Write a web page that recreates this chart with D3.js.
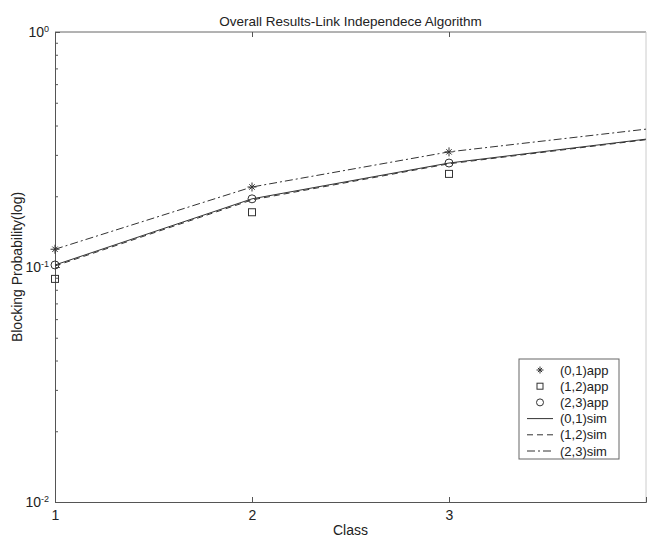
<!DOCTYPE html>
<html>
<head>
<meta charset="utf-8">
<script src="https://cdn.jsdelivr.net/npm/d3@7"></script>
<style>
    body { margin: 0; background: #fff; }
    text { font-family: "Liberation Sans", Arial, sans-serif; fill: #222; }
</style>
</head>
<body>
<div id="chart"></div>
<script>
// class index on the x axis
const classes = [1, 2, 3, 4];
const appClasses = [1, 2, 3];

// simulated blocking probability (lines)
const sim01 = [0.102, 0.195, 0.277, 0.350];
const sim12 = [0.101, 0.193, 0.275, 0.348];
const sim23 = [0.119, 0.219, 0.309, 0.386];

// approximated blocking probability (markers)
const app01 = [0.119, 0.219, 0.309];
const app12 = [0.089, 0.171, 0.249];
const app23 = [0.102, 0.195, 0.277];

const xTicks = [1, 2, 3];
const yMajor = [0.01, 0.1, 1];
const yExp = ['-2', '-1', '0'];

const legendLabels = ['(0,1)app', '(1,2)app', '(2,3)app', '(0,1)sim', '(1,2)sim', '(2,3)sim'];

class ResultsVis {
    constructor(_parentTag) {
        this.config = {
            width: 647,
            height: 541,
            left: 55,
            right: 646,
            top: 32,
            bottom: 502
        }
        this.parentTag = _parentTag;
        this.initVis();
    }

    initVis() {
        let vis = this;
        let c = vis.config;

        vis.svg = d3.select(vis.parentTag)
        .append('svg')
        .attr('width', c.width)
        .attr('height', c.height);

        vis.x = d3.scaleLinear().domain([1, 4]).range([c.left, c.right]);
        vis.y = d3.scaleLog().domain([0.01, 1]).range([c.bottom, c.top]);

        vis.renderVis();
    }

    starPath(s) {
        // matlab style asterisk: plus + cross
        let d = s * 0.6;
        return `M${-s},0L${s},0M0,${-s}L0,${s}M${-d},${-d}L${d},${d}M${-d},${d}L${d},${-d}`;
    }

    renderVis() {
        let vis = this;
        let c = vis.config;
        const ink = '#333';

        // frame
        vis.svg.append('line')
        .attr('x1', c.left).attr('x2', c.right)
        .attr('y1', c.top).attr('y2', c.top)
        .style('stroke', '#666');
        vis.svg.append('line')
        .attr('x1', c.right).attr('x2', c.right)
        .attr('y1', c.top).attr('y2', c.bottom)
        .style('stroke', '#ccc');

        // minor ticks on log axis
        let minor = [];
        for (let dec of [0.01, 0.1]) {
            for (let k = 2; k <= 9; k++) minor.push(dec * k);
        }

        vis.svg.append('g')
        .attr('transform', `translate(${c.left},0)`)
        .call(d3.axisLeft(vis.y).tickValues(minor).tickSize(-3).tickFormat(''))
        .call(g => g.select('.domain').remove());

        const yAxisG = vis.svg.append('g')
        .attr('transform', `translate(${c.left},0)`)
        .call(d3.axisLeft(vis.y).tickValues(yMajor).tickSize(-5).tickFormat(''));

        yAxisG.selectAll('.tick')
        .append('text')
        .attr('x', -6)
        .attr('dy', '0.35em')
        .attr('font-size', 14)
        .style('font-size', '14px')
        .style('text-anchor', 'end')
        .each(function(d, i) {
            let t = d3.select(this);
            t.append('tspan').text('10');
            t.append('tspan').attr('dy', '-0.55em').style('font-size', '9px').text(yExp[i]);
        });

        const xAxisG = vis.svg.append('g')
        .attr('transform', `translate(0,${c.bottom})`)
        .attr('font-size', 14)
        .call(d3.axisBottom(vis.x).tickValues(xTicks).tickSize(-5).tickPadding(8).tickFormat(d3.format('d')));
        xAxisG.attr('font-size', 14);
        xAxisG.selectAll('text').style('font-size', '14px').style('fill', '#222');

        // ticks on top edge
        vis.svg.append('g')
        .attr('transform', `translate(0,${c.top})`)
        .call(d3.axisTop(vis.x).tickValues([2, 3]).tickSize(-5).tickFormat(''))
        .call(g => g.select('.domain').remove());

        vis.svg.selectAll('.domain').style('stroke', '#555');
        vis.svg.selectAll('.tick line').style('stroke', '#555');

        // titles
        vis.svg.append('text')
        .attr('x', (c.left + c.right) / 2)
        .attr('y', 26)
        .style('text-anchor', 'middle')
        .style('font-size', '13.5px')
        .text('Overall Results-Link Independece Algorithm');

        vis.svg.append('text')
        .attr('x', (c.left + c.right) / 2)
        .attr('y', 535)
        .style('text-anchor', 'middle')
        .style('font-size', '14px')
        .text('Class');

        vis.svg.append('text')
        .attr('transform', `translate(22,${(c.top + c.bottom) / 2}) rotate(-90)`)
        .style('text-anchor', 'middle')
        .style('font-size', '14px')
        .text('Blocking Probability(log)');

        // sim lines
        const line = d3.line()
        .x((d, i) => vis.x(classes[i]))
        .y(d => vis.y(d));

        const simSeries = [
            { values: sim01, dash: null },
            { values: sim12, dash: '6,4' },
            { values: sim23, dash: '8,3,2,3' }
        ];

        vis.svg.append('g')
        .selectAll('path')
        .data(simSeries)
        .join('path')
        .attr('d', d => line(d.values))
        .style('fill', 'none')
        .style('stroke', ink)
        .style('stroke-width', 1)
        .style('stroke-dasharray', d => d.dash);

        // app markers
        const markG = vis.svg.append('g');

        markG.selectAll('.star')
        .data(app01)
        .join('path')
        .classed('star', true)
        .attr('transform', (d, i) => `translate(${vis.x(appClasses[i])},${vis.y(d)})`)
        .attr('d', vis.starPath(4.5))
        .style('stroke', ink);

        markG.selectAll('.square')
        .data(app12)
        .join('rect')
        .classed('square', true)
        .attr('x', (d, i) => vis.x(appClasses[i]) - 3.5)
        .attr('y', d => vis.y(d) - 3.5)
        .attr('width', 7)
        .attr('height', 7)
        .style('fill', 'none')
        .style('stroke', ink);

        markG.selectAll('.circ')
        .data(app23)
        .join('circle')
        .classed('circ', true)
        .attr('cx', (d, i) => vis.x(appClasses[i]))
        .attr('cy', d => vis.y(d))
        .attr('r', 4)
        .style('fill', 'none')
        .style('stroke', ink);

        // legend
        const lg = vis.svg.append('g').attr('transform', 'translate(519,359)');
        lg.append('rect')
        .attr('width', 100)
        .attr('height', 100)
        .style('fill', '#fff')
        .style('stroke', '#666');

        const rowY = i => 11 + i * 16.2;

        lg.selectAll('.lab')
        .data(legendLabels)
        .join('text')
        .classed('lab', true)
        .attr('x', 41)
        .attr('y', (d, i) => rowY(i))
        .attr('dy', '0.35em')
        .style('font-size', '13px')
        .text(d => d);

        lg.append('path')
        .attr('transform', `translate(21,${rowY(0)})`)
        .attr('d', vis.starPath(3.5))
        .style('stroke', ink);
        lg.append('rect')
        .attr('x', 18).attr('y', rowY(1) - 3)
        .attr('width', 6).attr('height', 6)
        .style('fill', 'none').style('stroke', ink);
        lg.append('circle')
        .attr('cx', 21).attr('cy', rowY(2))
        .attr('r', 3.5)
        .style('fill', 'none').style('stroke', ink);

        lg.selectAll('.sample')
        .data(simSeries)
        .join('line')
        .classed('sample', true)
        .attr('x1', 8).attr('x2', 34)
        .attr('y1', (d, i) => rowY(i + 3))
        .attr('y2', (d, i) => rowY(i + 3))
        .style('stroke', ink)
        .style('stroke-dasharray', d => d.dash);
    }
}

let resultsVis = new ResultsVis('#chart');
</script>
</body>
</html>
